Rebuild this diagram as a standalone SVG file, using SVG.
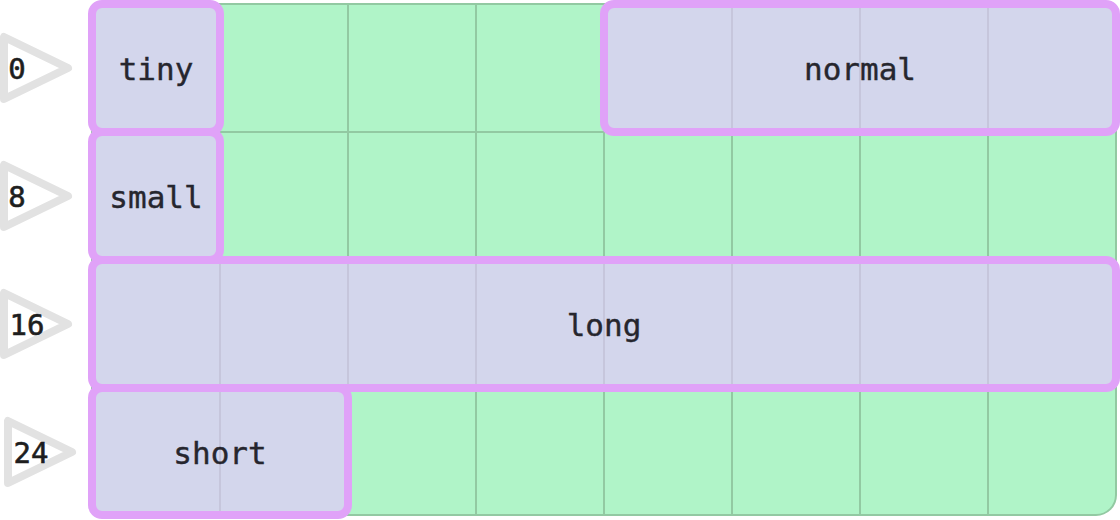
<svg xmlns="http://www.w3.org/2000/svg" width="1120" height="520" viewBox="0 0 1120 520">
<style>
.gl{stroke:#92c9a2;stroke-width:2}
.fl{stroke:#c6c6dc;stroke-width:2}
.box{fill:#d3d6ec;stroke:#e0a2f8;stroke-width:8}
.lab{font-family:"DejaVu Sans Mono","Liberation Mono",monospace;font-size:31px;fill:#26262e;stroke:#26262e;stroke-width:0.4;text-anchor:middle;dominant-baseline:central}
.tri{fill:none;stroke:#e2e2e2;stroke-width:8;stroke-linejoin:round}
.num{font-family:"DejaVu Sans Mono","Liberation Mono",monospace;font-size:29px;fill:#1e1e1e;stroke:#1e1e1e;stroke-width:0.6;text-anchor:middle;dominant-baseline:central}
</style>
<g id="grid">
<rect x="92" y="4" width="1024" height="511" rx="20" fill="#b0f4c8" stroke="#92c9a2" stroke-width="2"/>
<path class="gl" d="M220 4V515M348 4V515M476 4V515M604 4V515M732 4V515M860 4V515M988 4V515M92 132H1116M92 260H1116M92 388H1116"/>
</g>
<g id="row-labels">
<g id="label-0"><polygon class="tri" points="4,37 4,99 68,68"/><text class="num" x="17" y="69">0</text></g>
<g id="label-8"><polygon class="tri" points="4,165 4,227 68,196"/><text class="num" x="17" y="197">8</text></g>
<g id="label-16"><polygon class="tri" points="4,293 4,355 68,324"/><text class="num" x="27" y="325">16</text></g>
<g id="label-24"><polygon class="tri" points="8,421 8,483 72,452"/><text class="num" x="31" y="453">24</text></g>
</g>
<g id="tiny"><rect class="box" x="92" y="4" width="128" height="128" rx="10"/><text class="lab" x="156" y="69">tiny</text></g>
<g id="small"><rect class="box" x="92" y="132" width="128" height="128" rx="10"/><text class="lab" x="156" y="197">small</text></g>
<g id="normal"><rect class="box" x="604" y="4" width="512" height="128" rx="10"/><path class="fl" d="M732 8V128M860 8V128M988 8V128"/><text class="lab" x="860" y="69">normal</text></g>
<g id="long"><rect class="box" x="92" y="260" width="1024" height="128" rx="10"/><path class="fl" d="M220 264V384M348 264V384M476 264V384M604 264V384M732 264V384M860 264V384M988 264V384"/><text class="lab" x="604" y="325">long</text></g>
<g id="short"><rect class="box" x="92" y="388" width="256" height="127" rx="10"/><path class="fl" d="M220 392V511"/><text class="lab" x="220" y="453">short</text></g>
</svg>
